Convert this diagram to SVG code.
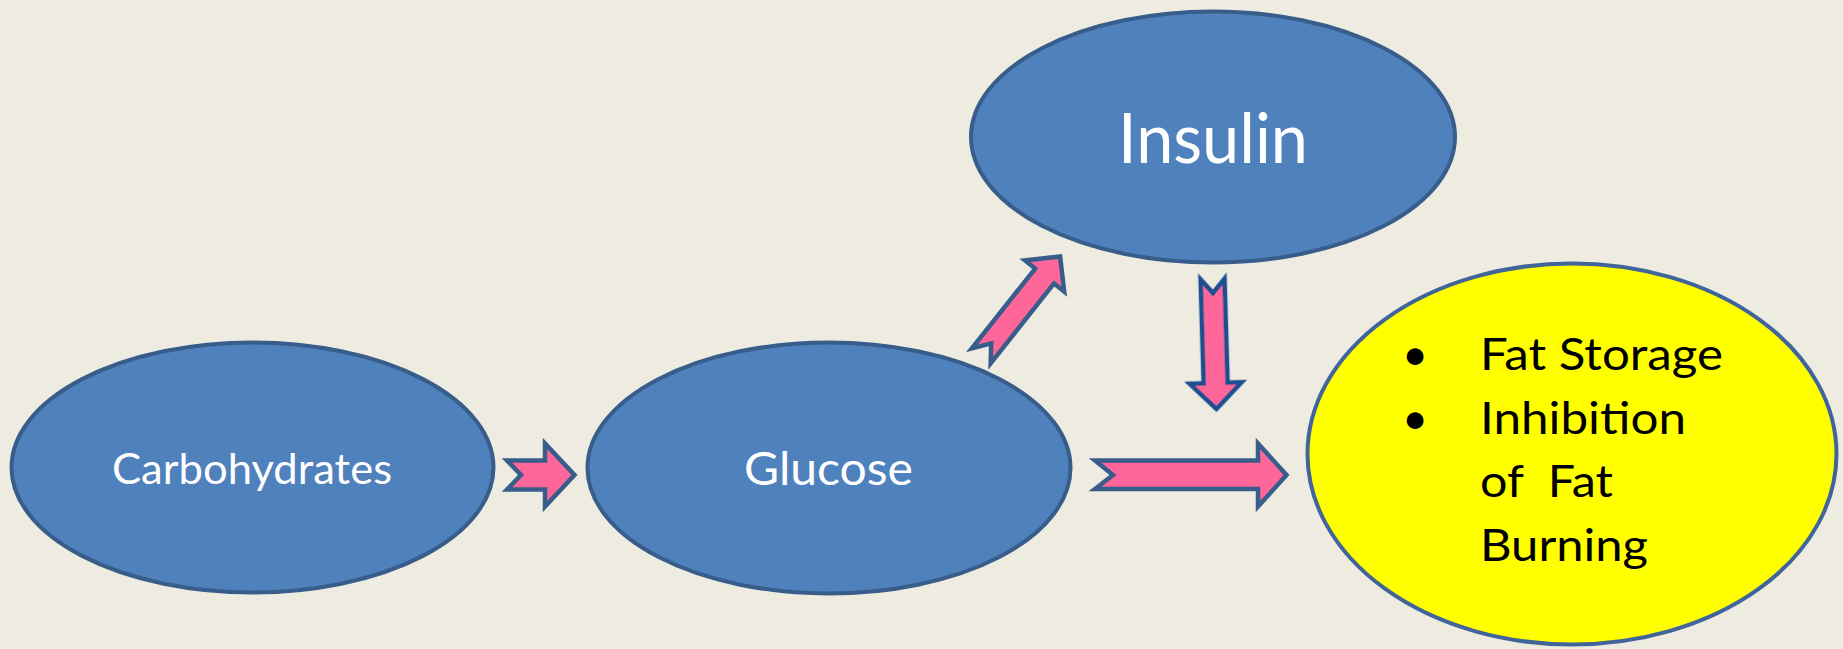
<svg xmlns="http://www.w3.org/2000/svg" width="1843" height="649" viewBox="0 0 1843 649">
  <style>
    .bubble { fill: #4F81BD; stroke: #385D8A; stroke-width: 4; }
    .result { fill: #FFFF00; stroke: #41659B; stroke-width: 4; }
    .arrow { fill: #FF6699; stroke: #385D8A; stroke-width: 4.5; stroke-linejoin: miter; }
    .arrow.soft { stroke: #1E5090; filter: url(#soften); }
    .label { font-family: Lato, "Open Sans", "DejaVu Sans", sans-serif; fill: #FFFFFF; }
    .item { font-family: Lato, "Open Sans", "DejaVu Sans", sans-serif; fill: #000000; font-size: 45px; }
  </style>
  <defs>
    <filter id="soften" x="-20%" y="-20%" width="140%" height="140%">
      <feGaussianBlur stdDeviation="0.6"/>
    </filter>
  </defs>
  <rect width="1843" height="649" fill="#EEECE1"/>

  <!-- pathway arrows -->
  <g id="connectors">
    <path class="arrow" d="M507,460.5 L545,460.5 L545,443.5 L574.5,475 L545,506.5 L545,489.5 L507,489.5 L521,475 Z"/>
    <path class="arrow" transform="translate(980,357.5) rotate(-51.6)" d="M2,-12 L104,-12 L104,-25 L129,0 L104,25 L104,12 L2,12 L18,0 Z"/>
    <path class="arrow soft" transform="translate(1212.5,277) rotate(88.3)" d="M2,-12 L106,-12 L106,-26 L132,0 L106,26 L106,12 L2,12 L16,0 Z"/>
    <path class="arrow" d="M1095,460.5 L1258,460.5 L1258,443.5 L1286.5,475 L1258,506.5 L1258,489 L1095,489 L1113,475 Z"/>
  </g>

  <g id="carbohydrates">
    <ellipse class="bubble" cx="252.5" cy="467.5" rx="241" ry="125"/>
    <text class="label" x="112" y="484" font-size="43" textLength="280" lengthAdjust="spacingAndGlyphs">Carbohydrates</text>
  </g>

  <g id="glucose">
    <ellipse class="bubble" cx="829" cy="468" rx="241.5" ry="125.5"/>
    <text class="label" x="744" y="485" font-size="46" textLength="169" lengthAdjust="spacingAndGlyphs">Glucose</text>
  </g>

  <g id="insulin">
    <ellipse class="bubble" cx="1213" cy="137" rx="242" ry="125.5"/>
    <text class="label" x="1118" y="163" font-size="69" textLength="190" lengthAdjust="spacingAndGlyphs">Insulin</text>
  </g>

  <g id="effects">
    <ellipse class="result" cx="1572" cy="454" rx="264.5" ry="190.5"/>
    <text class="item" x="1415" y="370" text-anchor="middle">•</text>
    <text class="item" x="1415" y="434" text-anchor="middle">•</text>
    <text class="item" x="1480" y="370" textLength="243" lengthAdjust="spacingAndGlyphs">Fat Storage</text>
    <text class="item" x="1480" y="434" textLength="206" lengthAdjust="spacingAndGlyphs">Inhibition</text>
    <text class="item" x="1480" y="497" textLength="133" lengthAdjust="spacingAndGlyphs" xml:space="preserve">of  Fat</text>
    <text class="item" x="1480" y="561" textLength="168" lengthAdjust="spacingAndGlyphs">Burning</text>
  </g>
</svg>
